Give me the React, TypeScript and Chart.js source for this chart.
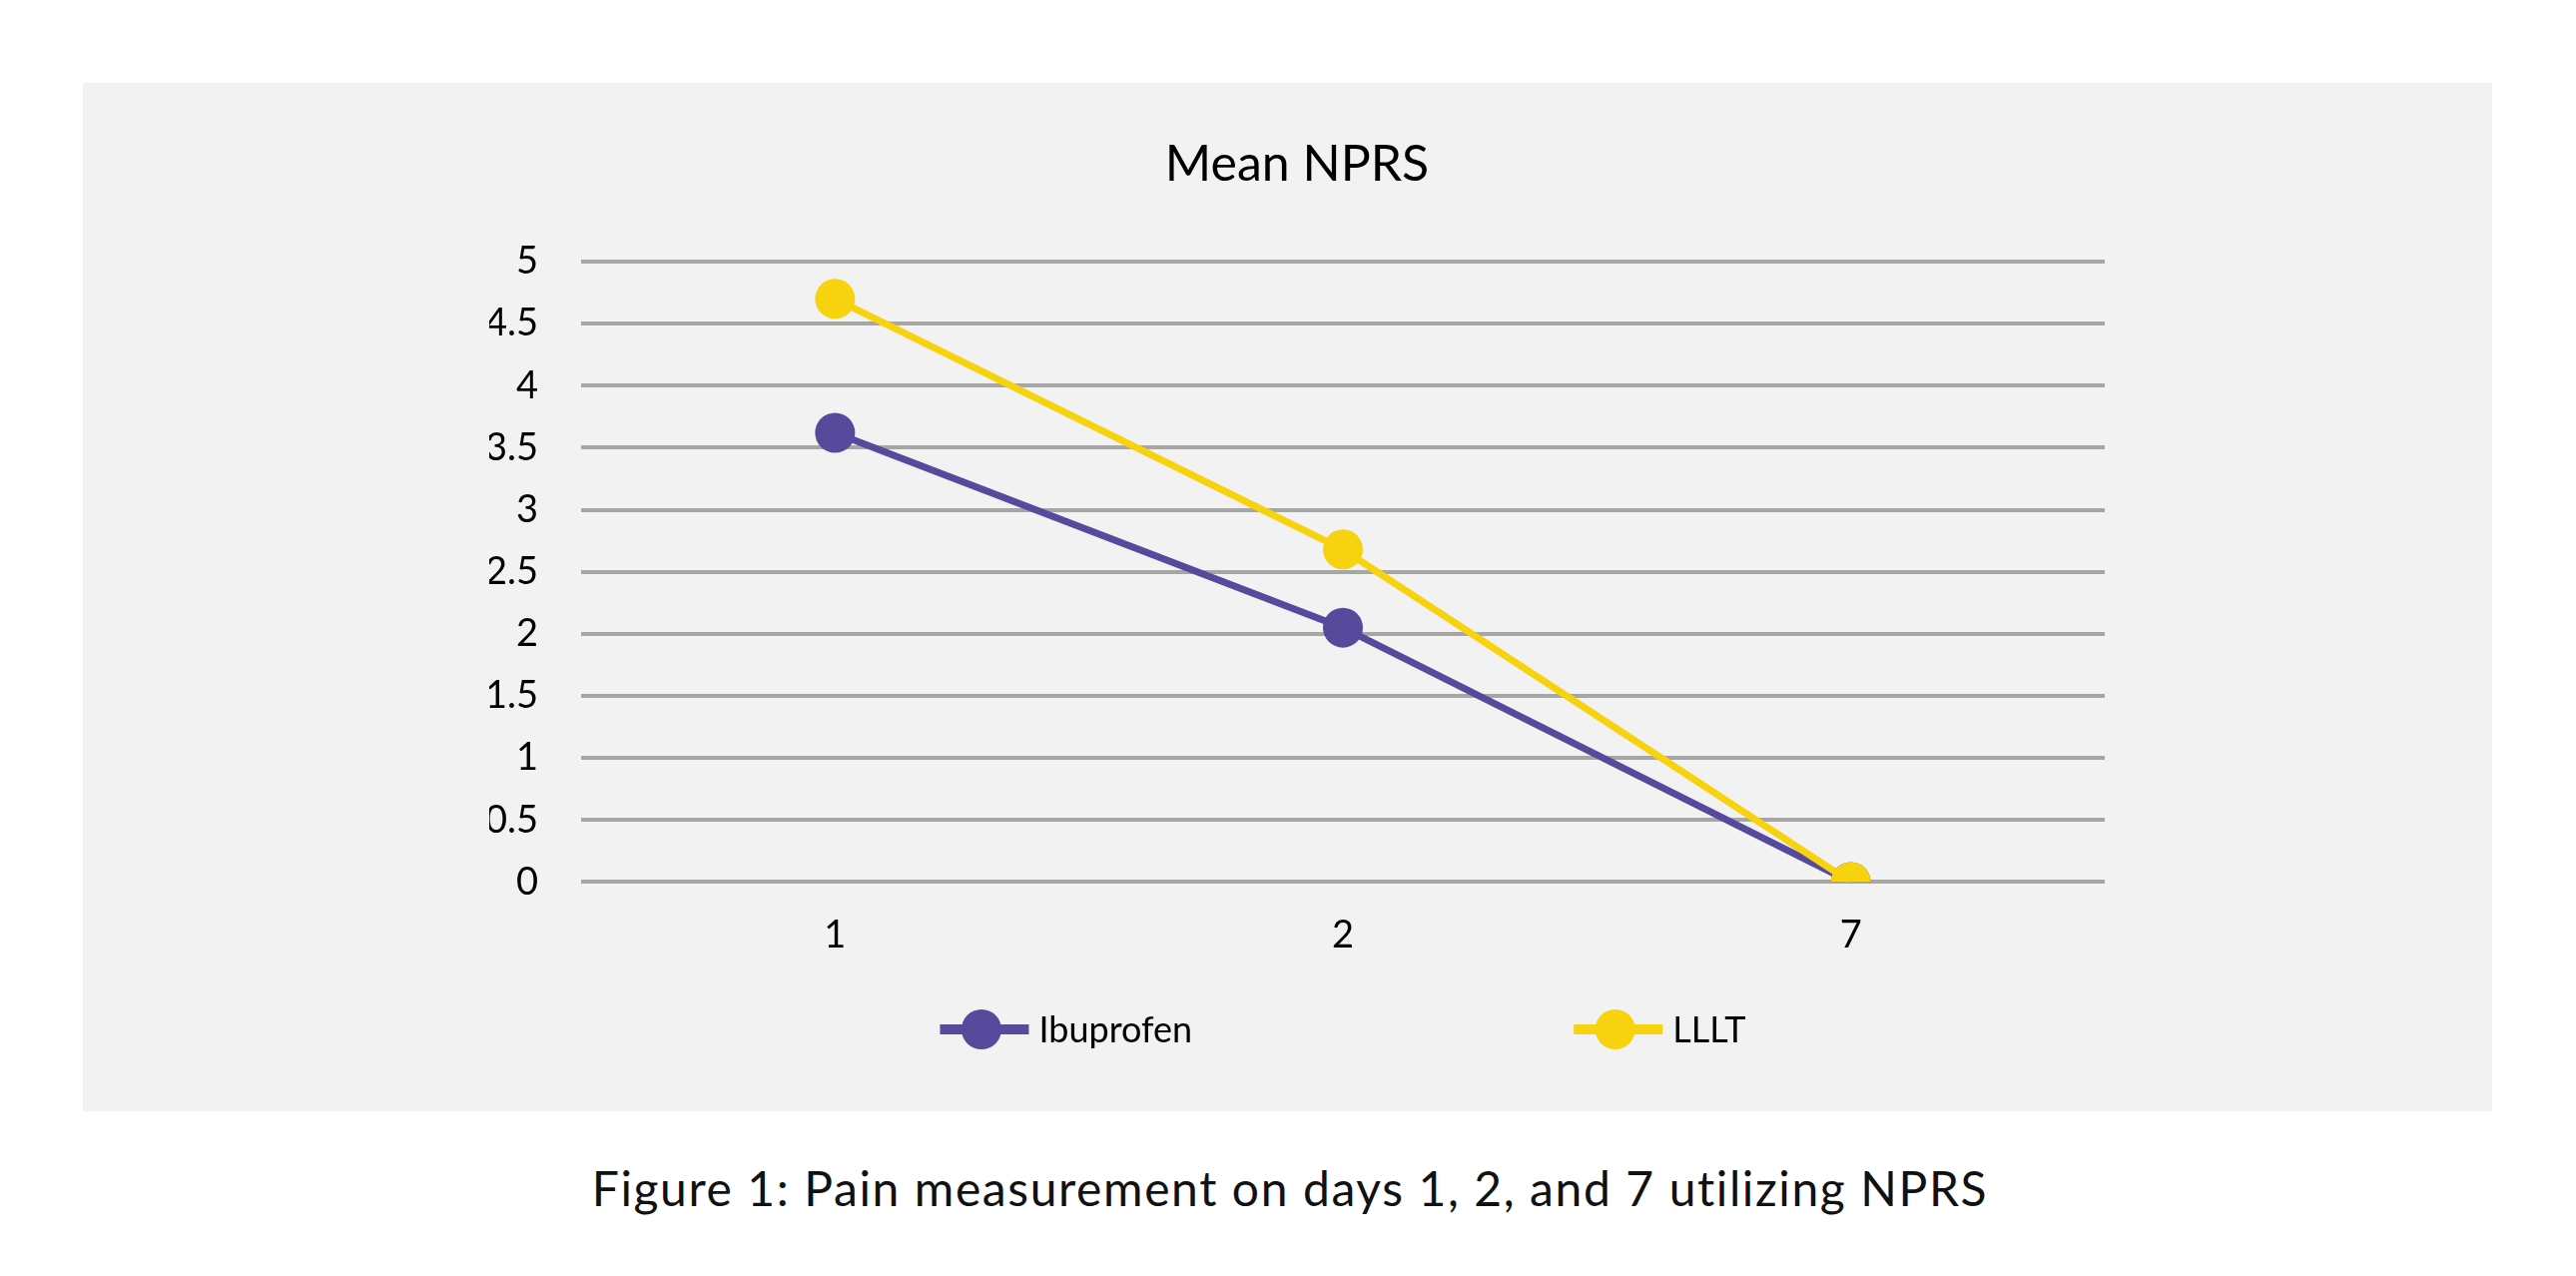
import React, { useEffect, useRef } from "react";
import { Chart, registerables } from "chart.js";

Chart.register(...registerables);

const days = ["1", "2", "7"];
const ibuprofen = [3.62, 2.05, 0];
const lllt = [4.7, 2.68, 0];
const seriesNames = ["Ibuprofen", "LLLT"];
const chartTitle = "Mean NPRS";
const caption = "Figure 1: Pain measurement on days 1, 2, and 7 utilizing NPRS";

const PURPLE = "#574a9c";
const YELLOW = "#f7d20e";
const FONT = "Lato, 'Open Sans', sans-serif";

const W = 2413;
const H = 1030;

const legendPlugin = {
  id: "lineLegend",
  afterDraw(chart: any) {
    const ctx = chart.ctx as CanvasRenderingContext2D;
    const area = chart.chartArea;
    const y = chart.scales.x.bottom + 40;
    const markW = 89;
    const textGap = 10;
    const itemGap = 382;
    ctx.save();
    ctx.font = `36px ${FONT}`;
    const items = chart.data.datasets.map((ds: any) => ({
      ds,
      w: markW + textGap + ctx.measureText(ds.label).width,
    }));
    const total =
      items.reduce((s: number, it: any) => s + it.w, 0) + itemGap * (items.length - 1);
    let x = (area.left + area.right) / 2 - total / 2;
    for (const it of items) {
      const c = it.ds.borderColor;
      ctx.strokeStyle = c;
      ctx.lineWidth = 10;
      ctx.beginPath();
      ctx.moveTo(x, y);
      ctx.lineTo(x + markW, y);
      ctx.stroke();
      ctx.fillStyle = c;
      ctx.beginPath();
      ctx.arc(x + markW / 2 - 3, y, 20, 0, Math.PI * 2);
      ctx.fill();
      ctx.fillStyle = "#000";
      ctx.textBaseline = "middle";
      ctx.textAlign = "left";
      ctx.fillText(it.ds.label, x + markW + textGap, y + 1);
      x += it.w + itemGap;
    }
    ctx.restore();
  },
};

export default function App() {
  const ref = useRef<HTMLCanvasElement>(null);

  useEffect(() => {
    if (!ref.current) return;
    const chart = new Chart(ref.current, {
      type: "line",
      data: {
        labels: days,
        datasets: [
          {
            label: seriesNames[0],
            data: ibuprofen,
            borderColor: PURPLE,
            backgroundColor: PURPLE,
            borderWidth: 7,
            pointRadius: 20,
            pointBorderWidth: 0,
            pointBackgroundColor: PURPLE,
            tension: 0,
            order: 2,
          },
          {
            label: seriesNames[1],
            data: lllt,
            borderColor: YELLOW,
            backgroundColor: YELLOW,
            borderWidth: 7,
            pointRadius: 20,
            pointBorderWidth: 0,
            pointBackgroundColor: YELLOW,
            tension: 0,
            order: 1,
          },
        ],
      },
      options: {
        responsive: false,
        animation: false,
        devicePixelRatio: 1,
        layout: { padding: { left: 407, right: 388, top: 0, bottom: 122 } },
        plugins: {
          legend: { display: false },
          tooltip: { enabled: false },
          title: {
            display: true,
            text: chartTitle,
            color: "#000",
            font: { family: FONT, size: 50, weight: "normal" },
            padding: { top: 52, bottom: 67 },
          },
        },
        scales: {
          x: {
            offset: true,
            grid: { display: false, drawTicks: false },
            border: { display: false },
            ticks: {
              color: "#000",
              padding: 31,
              font: { family: FONT, size: 38 },
            },
          },
          y: {
            min: 0,
            max: 5,
            afterFit: (scale: any) => {
              scale.width = 92;
            },
            grid: { color: "#a6a6a6", lineWidth: 4, drawTicks: false },
            border: { display: false },
            ticks: {
              stepSize: 0.5,
              color: "#000",
              padding: 43,
              font: { family: FONT, size: 38 },
              callback: (v: any) => String(Number(v)),
            },
          },
        },
      },
      plugins: [legendPlugin],
    });
    return () => chart.destroy();
  }, []);

  return (
    <div style={{ position: "relative", width: 2580, height: 1278, background: "#fff" }}>
      <div
        style={{
          position: "absolute",
          left: 83 - 8,
          top: 83 - 8,
          width: W,
          height: H,
          background: "#f2f2f2",
        }}
      >
        <canvas ref={ref} width={W} height={H} style={{ width: W, height: H, display: "block" }} />
      </div>
      <div
        style={{
          position: "absolute",
          left: -8,
          top: 1161 - 8,
          width: 2584,
          textAlign: "center",
          fontFamily: FONT,
          fontSize: 48,
          letterSpacing: "1.6px",
          lineHeight: "58px",
          color: "#111",
        }}
      >
        {caption}
      </div>
    </div>
  );
}
